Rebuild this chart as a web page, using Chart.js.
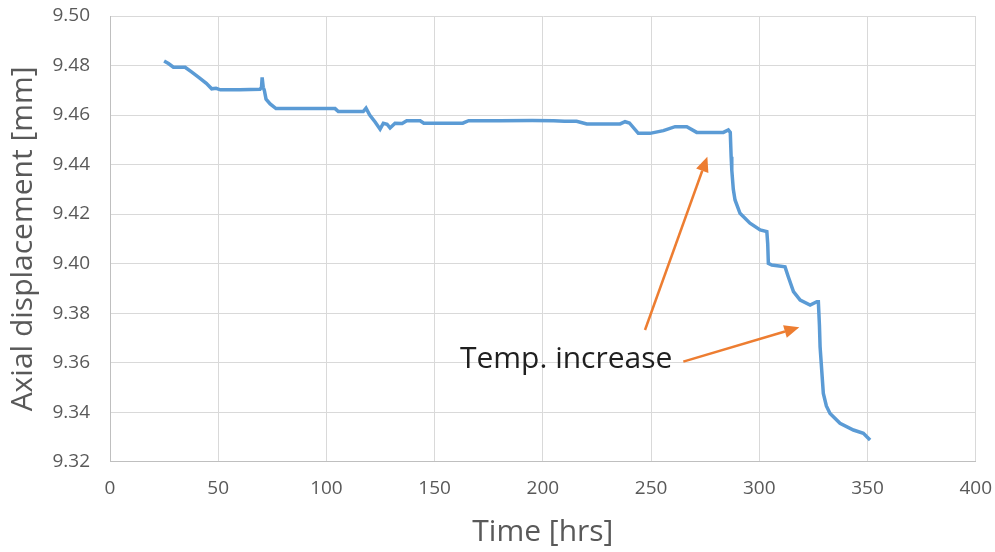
<!DOCTYPE html>
<html>
<head>
<meta charset="utf-8">
<script src="https://cdn.jsdelivr.net/npm/chart.js@4/dist/chart.umd.min.js"></script>
<style>
    body { margin: 0; background: #fff; }
    #wrap { width: 995px; height: 552px; position: relative; }
</style>
</head>
<body>
<div id="wrap"><canvas id="dispChart"></canvas></div>
<script>
// Time [hrs]
const hours = [
    25.0, 27.0, 29.3, 34.7, 37.5, 41.0, 44.5, 47.0, 49.0, 51.0, 60.0, 69.3,
    70.0, 70.3, 70.8, 71.3, 72.1, 74.0, 76.7, 90.0, 104.0, 105.5, 117.0, 118.3,
    120.0, 122.5, 124.8, 126.3, 128.0, 129.4, 131.7, 135.0, 137.1, 143.3, 145.0, 155.0,
    163.0, 165.7, 180.0, 195.0, 205.0, 210.0, 215.6, 220.3, 230.0, 235.7, 238.0, 240.0,
    244.1, 249.5, 255.7, 261.1, 266.5, 271.1, 283.4, 285.7, 286.6, 287.0, 287.3, 288.0,
    288.8, 291.1, 295.7, 300.4, 303.5, 303.9, 304.2, 305.8, 311.9, 313.4, 315.8, 318.9,
    323.5, 326.6, 327.3, 327.8, 328.1, 329.6, 331.0, 332.7, 337.3, 343.5, 348.1, 351.2
];

// Axial displacement [mm]
const displacement = [
    9.4818, 9.4808, 9.4793, 9.4793, 9.4775, 9.4752, 9.4728, 9.4706, 9.4708, 9.4702, 9.4702, 9.4704,
    9.4712, 9.4752, 9.4712, 9.4700, 9.4664, 9.4645, 9.4626, 9.4626, 9.4626, 9.4614, 9.4614, 9.4628,
    9.4600, 9.4572, 9.4543, 9.4567, 9.4563, 9.4548, 9.4567, 9.4566, 9.4577, 9.4577, 9.4567, 9.4567,
    9.4567, 9.4577, 9.4577, 9.4578, 9.4577, 9.4575, 9.4575, 9.4564, 9.4564, 9.4564, 9.4573, 9.4568,
    9.4526, 9.4526, 9.4537, 9.4553, 9.4553, 9.4530, 9.4530, 9.4540, 9.4530, 9.4432, 9.4378, 9.4300,
    9.4257, 9.4203, 9.4163, 9.4136, 9.4129, 9.4080, 9.4001, 9.3994, 9.3987, 9.3947, 9.3887, 9.3853,
    9.3833, 9.3846, 9.3846, 9.3750, 9.3664, 9.3476, 9.3425, 9.3395, 9.3355, 9.3328, 9.3315, 9.3288
];

const xTicks = [0, 50, 100, 150, 200, 250, 300, 350, 400];
const yTicks = [9.32, 9.34, 9.36, 9.38, 9.40, 9.42, 9.44, 9.46, 9.48, 9.50];

// Annotation: two arrows [tail, head] in data units, plus label
const arrowTails = [[247.2, 9.3732], [264.9, 9.3604]];
const arrowHeads = [[276.0, 9.4432], [318.5, 9.3743]];
const noteText = 'Temp. increase';
const notePos = [161.7, 9.3578];

const FONT = '"Open Sans", "Noto Sans", sans-serif';
const GREY = '#595959';

const annotationPlugin = {
    id: 'tempNote',
    afterDatasetsDraw(chart) {
        const { ctx, scales: { x, y } } = chart;
        ctx.save();
        ctx.strokeStyle = '#ED7D31';
        ctx.fillStyle = '#ED7D31';
        ctx.lineWidth = 2.5;
        arrowTails.forEach((t, i) => {
            const h = arrowHeads[i];
            const x0 = x.getPixelForValue(t[0]), y0 = y.getPixelForValue(t[1]);
            const x1 = x.getPixelForValue(h[0]), y1 = y.getPixelForValue(h[1]);
            const ang = Math.atan2(y1 - y0, x1 - x0);
            const len = 15, half = 6.5;
            const bx = x1 - len * Math.cos(ang), by = y1 - len * Math.sin(ang);
            ctx.beginPath();
            ctx.moveTo(x0, y0);
            ctx.lineTo(bx, by);
            ctx.stroke();
            ctx.beginPath();
            ctx.moveTo(x1, y1);
            ctx.lineTo(bx + half * Math.sin(ang), by - half * Math.cos(ang));
            ctx.lineTo(bx - half * Math.sin(ang), by + half * Math.cos(ang));
            ctx.closePath();
            ctx.fill();
        });
        ctx.fillStyle = '#1f1f1f';
        ctx.font = '30px ' + FONT;
        ctx.textAlign = 'left';
        ctx.textBaseline = 'alphabetic';
        ctx.fillText(noteText, x.getPixelForValue(notePos[0]), y.getPixelForValue(notePos[1]));
        ctx.restore();
    }
};

const ctx = document.getElementById('dispChart').getContext('2d');
new Chart(ctx, {
    type: 'line',
    data: {
        datasets: [
            {
                label: 'Axial displacement',
                data: hours.map((h, i) => ({ x: h, y: displacement[i] })),
                borderColor: '#5B9BD5',
                borderWidth: 3.5,
                pointRadius: 0,
                tension: 0,
                fill: false
            }
        ]
    },
    options: {
        responsive: true,
        maintainAspectRatio: false,
        animation: false,
        layout: {
            padding: { top: 16, right: 19.3, left: 0, bottom: 0 }
        },
        plugins: {
            legend: { display: false },
            tooltip: { enabled: false }
        },
        scales: {
            x: {
                type: 'linear',
                min: 0,
                max: 400,
                afterBuildTicks: axis => { axis.ticks = xTicks.map(v => ({ value: v })); },
                afterFit: axis => {
                    axis.height = 90.3;
                    // edge labels must not push the plot area in
                    axis.paddingLeft = 0;
                    axis.paddingRight = 0;
                },
                grid: { color: '#d9d9d9', lineWidth: 1, drawTicks: false },
                border: { color: '#bfbfbf', width: 1 },
                ticks: {
                    color: GREY,
                    font: { family: FONT, size: 19, lineHeight: 1 },
                    padding: 17.4,
                    maxRotation: 0
                },
                title: {
                    display: true,
                    text: 'Time [hrs]',
                    color: GREY,
                    font: { family: FONT, size: 30, lineHeight: 1 },
                    padding: { top: 0, bottom: 4.6 }
                }
            },
            y: {
                min: 9.32,
                max: 9.50,
                afterBuildTicks: axis => { axis.ticks = yTicks.map(v => ({ value: v })); },
                afterFit: axis => {
                    axis.width = 110;
                    axis.paddingTop = 0;
                    axis.paddingBottom = 0;
                },
                grid: { color: '#d9d9d9', lineWidth: 1, drawTicks: false },
                border: { color: '#bfbfbf', width: 1 },
                ticks: {
                    color: GREY,
                    font: { family: FONT, size: 19, lineHeight: 1 },
                    padding: 20,
                    callback: v => Number(v).toFixed(2)
                },
                title: {
                    display: true,
                    text: 'Axial displacement [mm]',
                    color: GREY,
                    font: { family: FONT, size: 30, lineHeight: 1 },
                    padding: { top: 8.4, bottom: 0 }
                }
            }
        }
    },
    plugins: [annotationPlugin]
});
</script>
</body>
</html>
